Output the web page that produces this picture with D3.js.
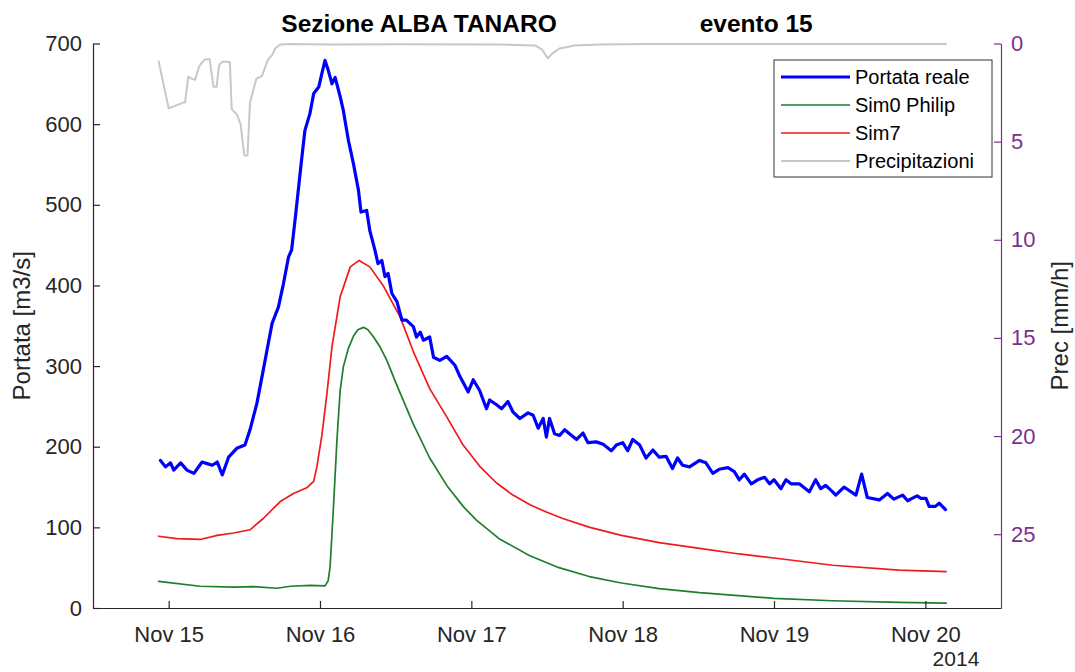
<!DOCTYPE html>
<html><head><meta charset="utf-8">
<script src="https://cdn.jsdelivr.net/npm/d3@7"></script>
<style>
body{margin:0;background:#fff}
text{font-family:"Liberation Sans",Arial,Helvetica,sans-serif}
</style>
</head><body>
<svg id="c" width="1075" height="672"></svg>
<script>
// hours since 2014-11-15 00:00 (UTC)
const blueHours=[-1.3,-0.5,0.3,0.8,1.9,2.9,4.0,5.3,6.1,6.9,7.7,8.5,9.5,10.8,12.1,12.9,14.0,15.0,15.6,16.4,17.4,18.2,19.0,19.5,20.1,20.9,21.6,22.4,23.0,23.8,24.3,24.8,25.3,25.9,26.4,27.2,27.7,28.5,29.3,30.1,30.5,31.4,31.9,32.7,33.2,33.8,34.3,34.8,35.4,36.2,37.0,37.7,38.8,39.3,39.9,40.4,41.4,42.0,43.0,44.1,45.4,46.2,47.5,48.3,49.3,50.4,50.9,52.0,52.8,53.8,54.6,55.7,57.0,57.8,58.6,59.4,59.9,60.4,61.2,62.0,62.8,63.9,64.7,65.7,66.5,67.8,68.9,70.2,71.0,72.0,72.8,73.6,74.7,75.7,76.8,77.8,78.9,79.9,80.7,81.5,82.6,84.2,85.2,86.3,87.3,88.7,89.7,90.5,91.3,92.4,93.4,94.5,95.3,96.0,97.1,97.9,98.7,100.0,101.6,102.6,103.4,104.2,105.3,105.8,107.1,109.0,109.9,110.8,112.7,114.0,115.0,116.4,117.2,117.9,118.7,119.3,120.1,120.6,121.6,122.2,123.2];
const blueValues=[183,175,180,171,180,171,167,181,179,177,181,165,187,198,202,221,254,295,320,353,373,402,435,444,485,543,592,613,638,646,663,679,667,650,658,634,617,580,551,518,491,493,468,444,427,431,411,415,390,380,357,357,349,336,342,332,336,311,307,312,301,287,268,283,270,247,258,252,247,256,243,235,242,239,223,235,212,235,216,214,221,214,209,217,205,206,203,195,202,205,195,209,202,186,196,187,188,173,186,177,175,183,180,167,172,174,169,159,166,154,159,162,154,159,148,159,154,154,144,159,148,152,144,140,150,140,166,137,134,142,135,140,133,136,139,136,136,126,126,130,122];

const redHours=[-1.6,1.3,5.0,7.7,10.3,12.9,15.0,17.7,19.8,21.9,23.0,23.5,24.3,25.1,25.9,27.2,28.8,30.2,31.9,34.0,36.7,38.8,41.4,44.1,46.7,49.3,52.0,54.6,57.3,59.9,62.5,66.8,71.8,77.8,84.2,90.5,96.0,105.3,115.8,123.3];
const redValues=[89,86,85,90,93,97,111,132,142,149,157,175,214,266,324,386,423,431,423,400,361,318,272,237,202,176,155,140,128,119,111,100,90,81,74,67,62,53,47,45];

const greenHours=[-1.6,5.0,10.3,13.5,17.2,19.3,22.4,24.8,25.3,25.6,26.1,26.7,27.2,27.7,28.5,29.3,30.0,30.9,31.6,32.5,33.5,34.6,36.2,38.8,41.4,44.1,46.7,48.8,52.4,57.2,61.9,66.7,71.8,77.8,84.2,96.0,105.2,115.8,123.3];
const greenValues=[33,27,26,26.5,24.5,27,28,27.5,34,51,120,210,270,299,322,337,345,348,345,336,324,307,276,228,186,152,126,109,86,65,50,39,31,24,19,12,9,7,6];

const precHours=[-1.6,-1.0,0,0.8,2.4,2.6,3.1,3.7,4.2,4.8,5.2,5.8,6.5,7.1,7.6,8.0,8.5,9.3,9.7,10.0,10.8,11.4,12.0,12.5,12.9,13.9,14.8,15.3,15.8,16.4,16.9,17.7,19.3,25.6,36.7,52.5,58.1,59.2,60.1,60.9,62.0,64.4,68.3,76.2,92.1,107.9,123.3];
const precValues=[0.9,1.8,3.3,3.2,3.0,3.0,1.7,1.8,1.85,1.2,1.0,0.8,0.8,2.2,2.2,1.1,0.93,0.93,0.95,3.35,3.6,4.1,5.7,5.7,3.0,1.8,1.65,1.2,0.8,0.6,0.25,0.05,0.02,0.05,0.04,0.05,0.1,0.3,0.75,0.5,0.25,0.1,0.05,0.02,0.02,0.02,0.02];

const xTickDays=[0,1,2,3,4,5];
const xTickLabels=["Nov 15","Nov 16","Nov 17","Nov 18","Nov 19","Nov 20"];
const yearLabel="2014";
const leftTicks=[0,100,200,300,400,500,600,700];
const rightTicks=[0,5,10,15,20,25];
const legendLabels=["Portata reale","Sim0 Philip","Sim7","Precipitazioni"];
const titleLeft="Sezione ALBA TANARO", titleRight="evento 15";
const yLabelLeft="Portata [m3/s]", yLabelRight="Prec [mm/h]";

const svg=d3.select("#c");
const M={l:93,r:1001,t:43.5,b:608};
const base=Date.UTC(2014,10,15);
const T=h=>new Date(base+h*3600000);
const x=d3.scaleUtc().domain([T(-12),T(132)]).range([M.l,M.r]);
const yL=d3.scaleLinear().domain([0,700]).range([M.b,M.t]);
const yR=d3.scaleLinear().domain([0,28.76]).range([M.t,M.b]);
const axisCol="#262626", purple="#7E2F8E";

// series
function series(hours,vals,scale,color,w){
  const data=hours.map((h,i)=>[T(h),vals[i]]);
  svg.append("path").datum(data)
    .attr("fill","none").attr("stroke",color).attr("stroke-width",w)
    .attr("stroke-linejoin","round").attr("stroke-linecap","round")
    .attr("d",d3.line().x(d=>x(d[0])).y(d=>scale(d[1])));
}
const colors={blue:"#0000ff",green:"#1d7f2c",red:"#f0191c",grey:"#c8c8c8"};
series(precHours,precValues,yR,colors.grey,2);
series(greenHours,greenValues,yL,colors.green,1.7);
series(redHours,redValues,yL,colors.red,1.7);
series(blueHours,blueValues,yL,colors.blue,3.2);

// axes
function styleAxis(g,col,fs){
  g.select(".domain").attr("stroke",col).attr("stroke-width",1.2);
  g.selectAll(".tick line").attr("stroke",col).attr("stroke-width",1.2);
  g.selectAll(".tick text").attr("fill",col).style("font-size",fs+"px");
}
const gx=svg.append("g").attr("transform",`translate(0,${M.b})`)
  .call(d3.axisBottom(x).tickValues(xTickDays.map(d=>T(d*24))).tickFormat((d,i)=>xTickLabels[i])
    .tickSize(-7).tickSizeOuter(0).tickPadding(18));
styleAxis(gx,axisCol,22);
const gl=svg.append("g").attr("transform",`translate(${M.l},0)`)
  .call(d3.axisLeft(yL).tickValues(leftTicks).tickSize(-7).tickSizeOuter(0).tickPadding(11));
styleAxis(gl,axisCol,22);
const gr=svg.append("g").attr("transform",`translate(${M.r},0)`)
  .call(d3.axisRight(yR).tickValues(rightTicks).tickSize(-7).tickSizeOuter(0).tickPadding(10));
styleAxis(gr,purple,22);

svg.append("text").attr("x",x(T(120))+54).attr("y",666).attr("text-anchor","end")
  .attr("fill",axisCol).style("font-size","21px").text(yearLabel);

// title
const title=svg.append("text").attr("x",(M.l+M.r)/2).attr("y",32).attr("text-anchor","middle")
  .style("font-size","24.5px").style("font-weight","bold").style("white-space","pre").attr("fill","#000");
title.text(titleLeft+" ".repeat(21)+titleRight);

// axis labels
svg.append("text").attr("transform",`translate(30,${(M.t+M.b)/2}) rotate(-90)`).attr("text-anchor","middle")
  .attr("fill",axisCol).style("font-size","24px").text(yLabelLeft);
svg.append("text").attr("transform",`translate(1068,${(M.t+M.b)/2}) rotate(-90)`).attr("text-anchor","middle")
  .attr("fill",axisCol).style("font-size","24px").text(yLabelRight);

// legend
const lg=svg.append("g");
lg.append("rect").attr("x",774).attr("y",60).attr("width",218).attr("height",117)
  .attr("fill","#fff").attr("stroke","#333").attr("stroke-width",1);
const legCols=[colors.blue,colors.green,colors.red,colors.grey];
const legW=[3.2,1.7,1.7,2];
legendLabels.forEach((lab,i)=>{
  const yy=77+i*28;
  lg.append("line").attr("x1",781).attr("x2",850).attr("y1",yy).attr("y2",yy)
    .attr("stroke",legCols[i]).attr("stroke-width",legW[i]);
  lg.append("text").attr("x",855).attr("y",yy).attr("dy","0.35em").attr("fill","#000")
    .style("font-size","20px").text(lab);
});
</script>
</body></html>
